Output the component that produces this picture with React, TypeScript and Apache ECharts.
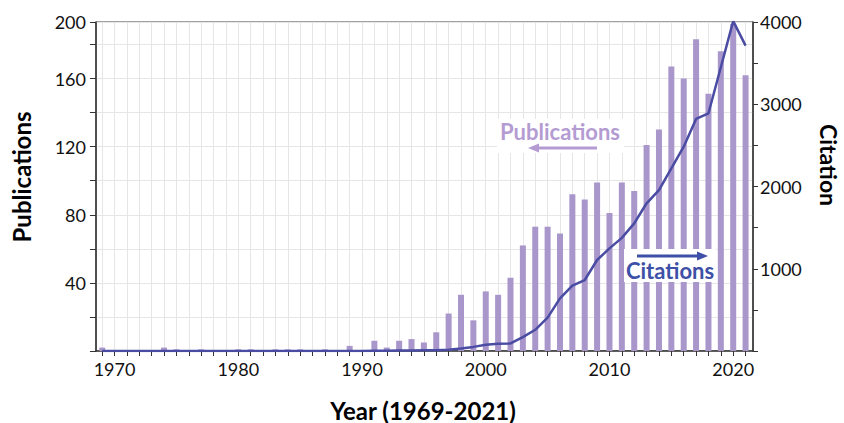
import React, { useEffect, useRef } from "react";
import * as echarts from "echarts";

// ---- data ----
const years = [
  1969, 1970, 1971, 1972, 1973, 1974, 1975, 1976, 1977, 1978, 1979, 1980,
  1981, 1982, 1983, 1984, 1985, 1986, 1987, 1988, 1989, 1990, 1991, 1992,
  1993, 1994, 1995, 1996, 1997, 1998, 1999, 2000, 2001, 2002, 2003, 2004,
  2005, 2006, 2007, 2008, 2009, 2010, 2011, 2012, 2013, 2014, 2015, 2016,
  2017, 2018, 2019, 2020, 2021,
];
const publications = [
  2, 0, 0, 0, 0, 2, 1, 0, 1, 0, 0, 1,
  1, 0, 1, 1, 1, 0, 1, 0, 3, 0, 6, 2,
  6, 7, 5, 11, 22, 33, 18, 35, 33, 43, 62, 73,
  73, 69, 92, 89, 99, 81, 99, 94, 121, 130, 167, 160,
  183, 151, 176, 192, 162,
];
const citations = [
  0, 0, 0, 0, 0, 0, 0, 0, 0, 0, 0, 0,
  0, 0, 0, 0, 0, 0, 0, 0, 0, 0, 2, 3,
  5, 6, 8, 10, 15, 30, 50, 75, 88, 92, 168, 258,
  405, 640, 794, 863, 1106, 1248, 1375, 1552, 1796, 1957, 2221, 2484,
  2821, 2890, 3450, 4010, 3712,
];
const xLabelYears = [1970, 1980, 1990, 2000, 2010, 2020];
const pubAxisMaxLabel = "200";

const PUB_COLOR = "#a996ca";
const CIT_COLOR = "#4a4ca3";
const FONT = "Lato";

export default function App() {
  const ref = useRef<HTMLDivElement>(null);

  useEffect(() => {
    if (!ref.current) return;
    const chart = echarts.init(ref.current, undefined, { renderer: "svg" });

    const option: any = {
      animation: false,
      textStyle: { fontFamily: FONT },
      grid: {
        left: 96,
        right: 91,
        top: 22,
        bottom: 72,
        show: true,
        borderColor: "#444",
        borderWidth: 1,
        backgroundColor: "transparent",
      },
      xAxis: {
        type: "value",
        min: 1968.5,
        max: 2021.6,
        axisLine: { show: true, onZero: false, lineStyle: { color: "#333", width: 1.5 } },
        axisTick: {
          show: true,
          customValues: years,
          length: 5,
          lineStyle: { color: "#333", width: 1 },
        },
        axisLabel: {
          customValues: xLabelYears,
          fontFamily: FONT,
          fontSize: 18,
          color: "#111",
          margin: 9,
          formatter: (v: number) => String(Math.round(v)),
        },
        splitLine: { show: true, lineStyle: { color: "#e6e6e6", width: 1 } },
      },
      yAxis: [
        {
          type: "value",
          min: 0,
          max: 193.2,
          interval: 20,
          axisLine: { show: true, lineStyle: { color: "#333", width: 1.5 } },
          axisTick: { show: true, length: 6, lineStyle: { color: "#333" } },
          axisLabel: {
            fontFamily: FONT,
            fontSize: 18,
            color: "#111",
            margin: 10,
            showMaxLabel: true,
            formatter: (v: number) => {
              if (v > 190) return pubAxisMaxLabel;
              if (v > 0 && v % 40 === 0) return String(v);
              return "";
            },
          },
          splitLine: { show: true, lineStyle: { color: "#e6e6e6", width: 1 } },
        },
        {
          type: "value",
          min: 0,
          max: 4000,
          interval: 500,
          position: "right",
          axisLine: { show: true, lineStyle: { color: "#333", width: 1.5 } },
          axisTick: { show: true, length: 5, lineStyle: { color: "#333" } },
          axisLabel: {
            fontFamily: FONT,
            fontSize: 18,
            color: "#111",
            margin: 7,
            formatter: (v: number) => (v > 0 && v % 1000 === 0 ? String(v) : ""),
          },
          splitLine: { show: false },
        },
      ],
      series: [
        {
          name: "Publications",
          type: "bar",
          yAxisIndex: 0,
          barWidth: 6,
          itemStyle: { color: PUB_COLOR },
          data: years.map((y, i) => [y, publications[i]]),
          z: 2,
        },
        {
          name: "Citations",
          type: "line",
          yAxisIndex: 1,
          symbol: "none",
          lineStyle: { color: CIT_COLOR, width: 2.5 },
          data: years.map((y, i) => [y, citations[i]]),
          z: 3,
        },
      ],
      graphic: [
        {
          type: "text",
          x: 21,
          y: 177,
          rotation: Math.PI / 2,
          z: 100,
          style: {
            text: "Publications",
            font: `bold 24px ${FONT}`,
            fill: "#000",
            textAlign: "center",
            textVerticalAlign: "middle",
            align: "center",
            verticalAlign: "middle",
          },
        },
        {
          type: "text",
          x: 829,
          y: 165,
          rotation: -Math.PI / 2,
          z: 100,
          style: {
            text: "Citation",
            font: `bold 23px ${FONT}`,
            fill: "#000",
            textAlign: "center",
            textVerticalAlign: "middle",
            align: "center",
            verticalAlign: "middle",
          },
        },
        {
          type: "text",
          x: 423,
          y: 410,
          z: 100,
          style: {
            text: "Year (1969-2021)",
            font: `bold 24px ${FONT}`,
            fill: "#000",
            textAlign: "center",
            textVerticalAlign: "middle",
            align: "center",
            verticalAlign: "middle",
          },
        },
        // Publications annotation
        {
          type: "rect",
          z: 90,
          shape: { x: 497, y: 119, width: 127, height: 34 },
          style: { fill: "#fff" },
        },
        {
          type: "text",
          x: 560,
          y: 131,
          z: 100,
          style: {
            text: "Publications",
            font: `bold 22px ${FONT}`,
            fill: "#b49cd3",
            textAlign: "center",
            textVerticalAlign: "middle",
            align: "center",
            verticalAlign: "middle",
          },
        },
        {
          type: "line",
          z: 100,
          shape: { x1: 538, y1: 148, x2: 597, y2: 148 },
          style: { stroke: "#b49cd3", lineWidth: 3 },
        },
        {
          type: "polygon",
          z: 100,
          shape: { points: [[528, 148], [539, 143.5], [539, 152.5]] },
          style: { fill: "#b49cd3" },
        },
        // Citations annotation
        {
          type: "rect",
          z: 90,
          shape: { x: 624, y: 249, width: 92, height: 33 },
          style: { fill: "#fff" },
        },
        {
          type: "line",
          z: 100,
          shape: { x1: 637, y1: 256, x2: 698, y2: 256 },
          style: { stroke: "#3d4fa6", lineWidth: 3 },
        },
        {
          type: "polygon",
          z: 100,
          shape: { points: [[708, 256], [697, 251.5], [697, 260.5]] },
          style: { fill: "#3d4fa6" },
        },
        {
          type: "text",
          x: 670,
          y: 270,
          z: 100,
          style: {
            text: "Citations",
            font: `bold 22px ${FONT}`,
            fill: "#3d4fa6",
            textAlign: "center",
            textVerticalAlign: "middle",
            align: "center",
            verticalAlign: "middle",
          },
        },
      ],
    };

    chart.setOption(option);
    return () => chart.dispose();
  }, []);

  return (
    <div
      ref={ref}
      style={{ position: "fixed", left: 0, top: 0, width: 844, height: 423, background: "#fff" }}
    />
  );
}
